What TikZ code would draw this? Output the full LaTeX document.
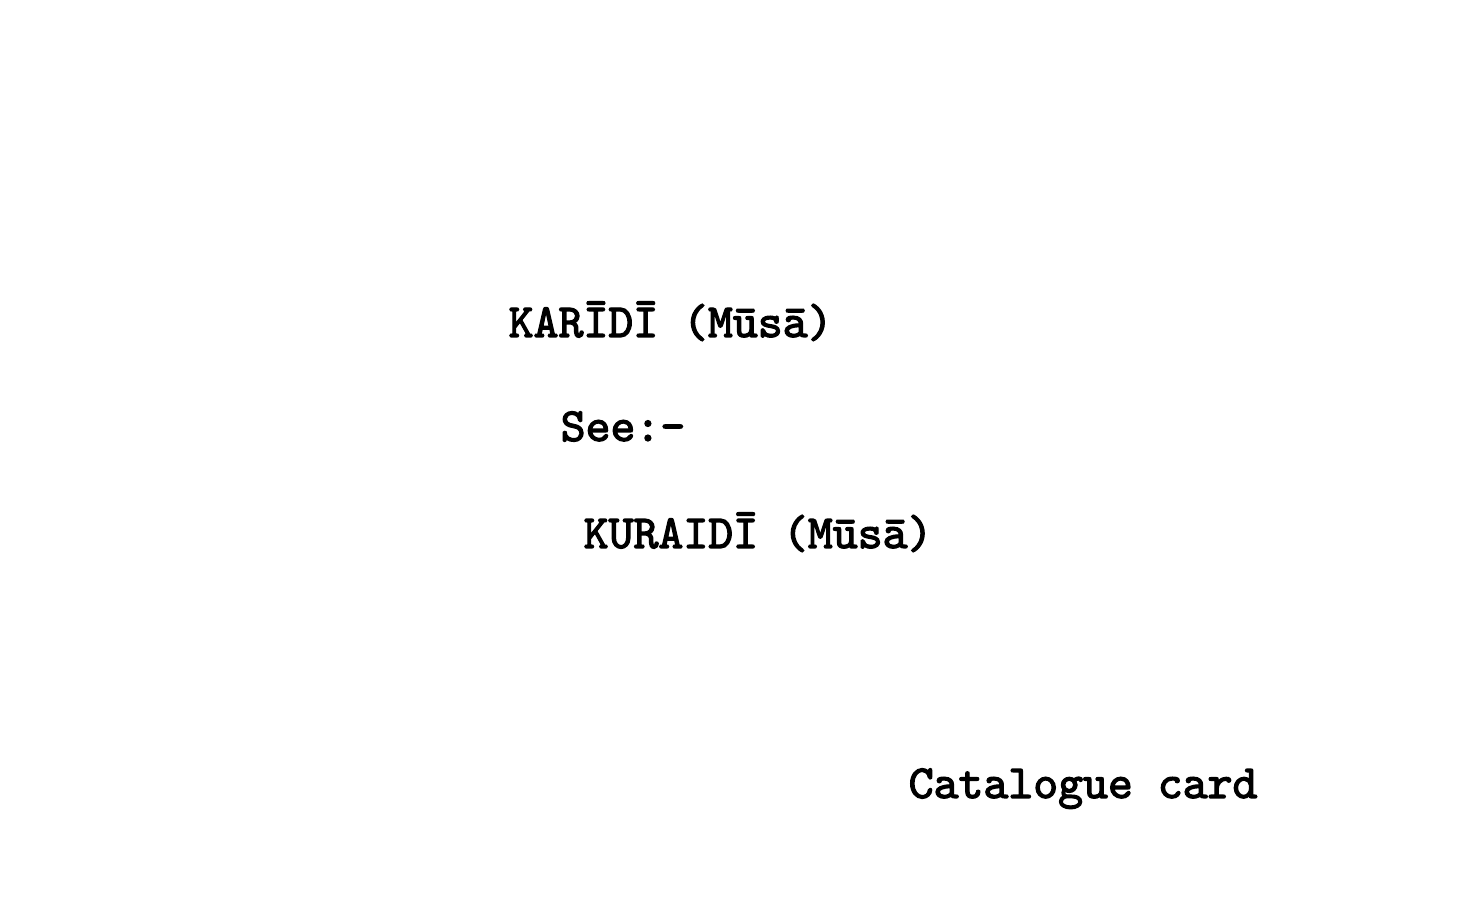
\documentclass[tikz,border=0pt]{standalone}
\usepackage{fontspec}
\newfontfamily\cardfont{lmmono10-regular.otf}[FakeBold=2.6]
\usetikzlibrary{positioning}

\begin{document}
\begin{tikzpicture}[
    cardtext/.style={anchor=base west, inner sep=0pt, font=\cardfont\fontsize{13.5}{16}\selectfont}
]

% ==== Card area ====
\useasboundingbox (0,0) rectangle (14.72,9.15);

% ==== Card entries ====
\node[cardtext] (heading) at (5.08,5.78) {KARĪDĪ (Mūsā)};
\node[cardtext] (see) at (5.60,4.74) {See:-};
\node[cardtext] (target) at (5.83,3.67) {KURAIDĪ (Mūsā)};

% ==== Card type ====
\node[cardtext] (cardtype) at (9.08,1.17) {Catalogue card};

\end{tikzpicture}
\end{document}
